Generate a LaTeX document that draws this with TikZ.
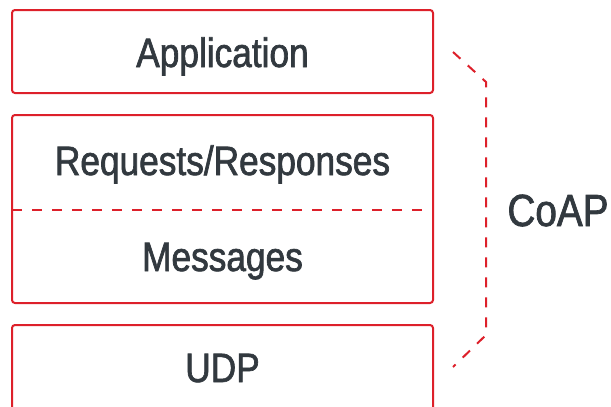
\documentclass[tikz,border=0pt]{standalone}
\usepackage{fontspec}
\setmainfont{Liberation Sans}[FakeStretch=0.86, FakeBold=1.6]
\usetikzlibrary{positioning}

\definecolor{stackred}{RGB}{221,32,42}
\definecolor{stacktext}{RGB}{50,57,63}

\begin{document}
\begin{tikzpicture}[
        x=1pt, y=-1pt,
        layer/.style={rectangle, draw=stackred, line width=2pt, rounded corners=3pt, minimum width=421pt, inner sep=0pt},
        label/.style={anchor=base, text=stacktext, font=\fontsize{41}{41}\selectfont, inner sep=0pt},
        split/.style={draw=stackred, line width=1.6pt, dash pattern=on 10pt off 10pt},
        brace/.style={draw=stackred, line width=2pt, dash pattern=on 10pt off 10pt}
    ]
    \useasboundingbox (0,0) rectangle (611,407);

    % Protocol layers
    \node[layer, minimum height=83pt] (app) at (222.5,51.5) {};
    \node[layer, minimum height=188pt] (msg) at (222.5,209) {};
    \node[layer, minimum height=100pt] (udp) at (222.5,375) {};

    % Sub-layer divider
    \coordinate (divl) at (12,210);
    \coordinate (divr) at (433,210);
    \draw[split] (divl) -- (divr);

    % Layer names
    \node[label] (applbl) at (222.5,67) {Application};
    \node[label] (reqlbl) at (222.5,175) {Requests/Responses};
    \node[label] (msglbl) at (222.5,271) {Messages};
    \node[label] (udplbl) at (222.5,382) {UDP};

    % Bracket around the CoAP layers
    \coordinate (bt) at (453,52);
    \coordinate (bt2) at (486,82);
    \coordinate (bb2) at (486,335);
    \coordinate (bb) at (453,367);
    \draw[brace] (bt) -- (bt2) -- (bb2) -- (bb);
    \node[label, font=\fontsize{45}{45}\selectfont] (coap) at (558,226) {CoAP};

\end{tikzpicture}
\end{document}
